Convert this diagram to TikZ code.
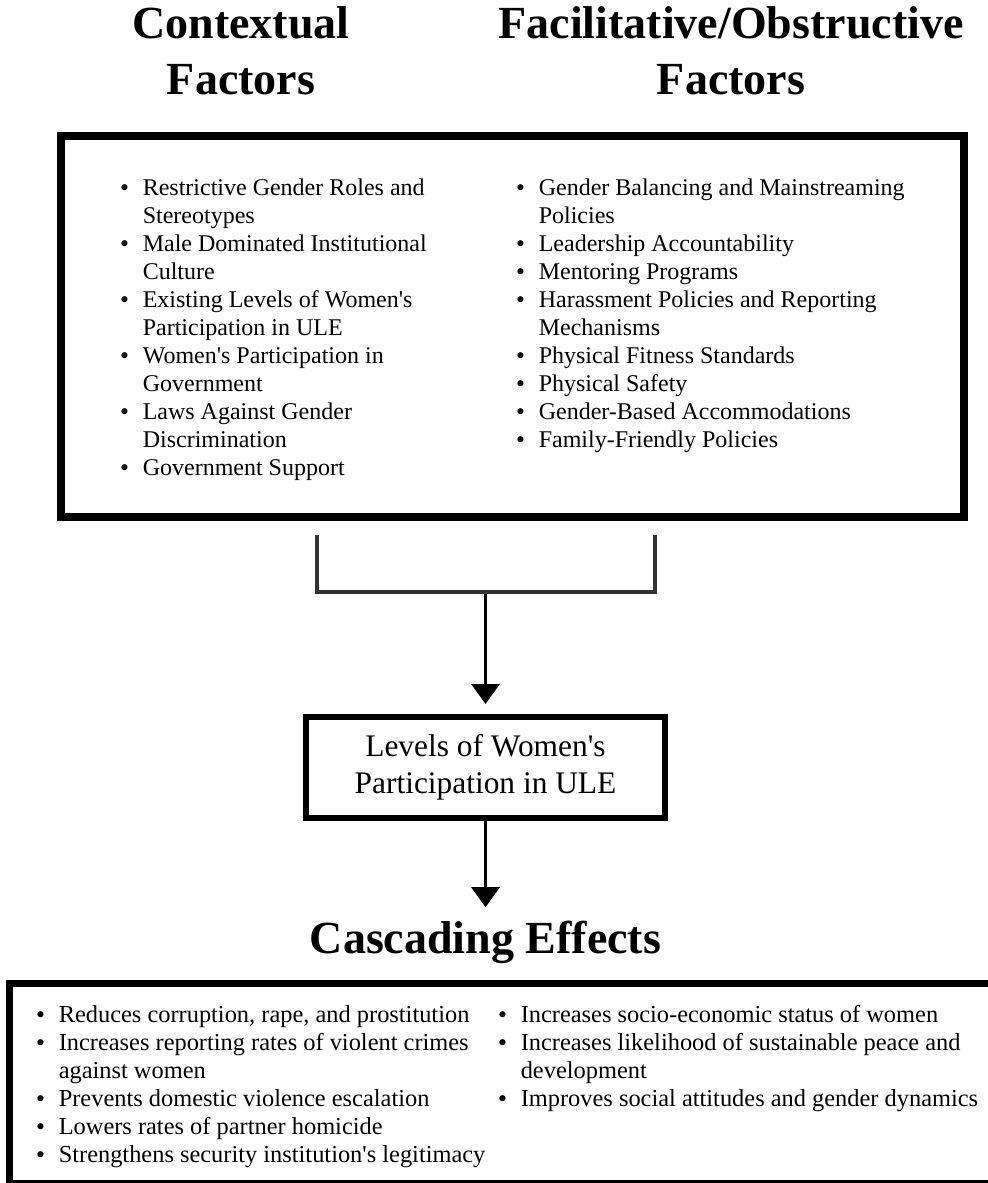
\documentclass[tikz,border=0pt]{standalone}
\usepackage{fontspec}
\setmainfont{Liberation Serif}
\newfontfamily\bulfont{DejaVu Sans}
\usetikzlibrary{arrows.meta}

\tikzset{
    heading/.style={font=\fontsize{23}{28}\selectfont\bfseries, inner sep=0pt, anchor=base},
    itemlist/.style={font=\fontsize{12}{14}\selectfont, inner sep=0pt, anchor=base west},
    efflist/.style={font=\fontsize{12.2}{14}\selectfont, inner sep=0pt, anchor=base west},
    framebox/.style={draw, line width=4pt},
    flowarrow/.style={line width=1.5pt, -{Triangle[width=14pt,length=10pt]}},
    bracket/.style={draw=black!80, line width=2pt},
}
\newcommand{\bul}{{\bulfont\fontsize{10.5}{12}\selectfont\textbullet}}
\newcommand{\apos}{\textquotesingle}

\begin{document}
\begin{tikzpicture}[x=0.5pt, y=-0.5pt]
    \useasboundingbox (0,0) rectangle (987,1183);

    % Headings
    \node[heading] (ctxhead) at (241,39) {\begin{tabular}[t]{@{}c@{}}Contextual\\Factors\end{tabular}};
    \node[heading] (faohead) at (731,39) {\begin{tabular}[t]{@{}c@{}}Facilitative/Obstructive\\Factors\end{tabular}};

    % Factors box
    \node[framebox, minimum width=451.5pt, minimum height=190.5pt] (factors) at (512.5,326.5) {};

    % Contextual list
    \node[itemlist] (ctxlist) at (118,195) {\begin{tabular}[t]{@{}l@{\hspace{6pt}}l@{}}
        \bul & Restrictive Gender Roles and\\
             & Stereotypes\\
        \bul & Male Dominated Institutional\\
             & Culture\\
        \bul & Existing Levels of Women\apos s\\
             & Participation in ULE\\
        \bul & Women\apos s Participation in\\
             & Government\\
        \bul & Laws Against Gender\\
             & Discrimination\\
        \bul & Government Support
    \end{tabular}};

    % Facilitative / obstructive list
    \node[itemlist] (faolist) at (514,195) {\begin{tabular}[t]{@{}l@{\hspace{6pt}}l@{}}
        \bul & Gender Balancing and Mainstreaming\\
             & Policies\\
        \bul & Leadership Accountability\\
        \bul & Mentoring Programs\\
        \bul & Harassment Policies and Reporting\\
             & Mechanisms\\
        \bul & Physical Fitness Standards\\
        \bul & Physical Safety\\
        \bul & Gender-Based Accommodations\\
        \bul & Family-Friendly Policies
    \end{tabular}};

    % Bracket joining the two columns
    \coordinate (brL) at (317,535);
    \coordinate (brR) at (655,535);
    \coordinate (brM) at (485.5,592);
    \draw[bracket] (brL) |- (brM) -| (brR);

    % Levels box
    \node[draw, line width=3pt, minimum width=179.5pt, minimum height=50.5pt,
          align=center, font=\fontsize{15.7}{18.5}\selectfont] (level) at (485.5,767.5)
          {Levels of Women\apos s\\Participation in ULE};

    \draw[flowarrow, shorten <=1pt, shorten >=5pt] (brM) -- (level.north);

    % Cascading effects
    \node[heading] (cascade) at (485.5,953) {Cascading Effects};
    \draw[flowarrow, shorten >=6.5pt] (level.south) -- (cascade.north);

    \node[draw, line width=3.5pt, minimum width=491.5pt, minimum height=100pt] (effects) at (500.5,1083) {};

    \node[efflist] (efflistA) at (34,1022) {\begin{tabular}[t]{@{}l@{\hspace{6pt}}l@{}}
        \bul & Reduces corruption, rape, and prostitution\\
        \bul & Increases reporting rates of violent crimes\\
             & against women\\
        \bul & Prevents domestic violence escalation\\
        \bul & Lowers rates of partner homicide\\
        \bul & Strengthens security institution\apos s legitimacy
    \end{tabular}};

    \node[efflist] (efflistB) at (496,1022) {\begin{tabular}[t]{@{}l@{\hspace{6pt}}l@{}}
        \bul & Increases socio-economic status of women\\
        \bul & Increases likelihood of sustainable peace and\\
             & development\\
        \bul & Improves social attitudes and gender dynamics
    \end{tabular}};
\end{tikzpicture}
\end{document}
